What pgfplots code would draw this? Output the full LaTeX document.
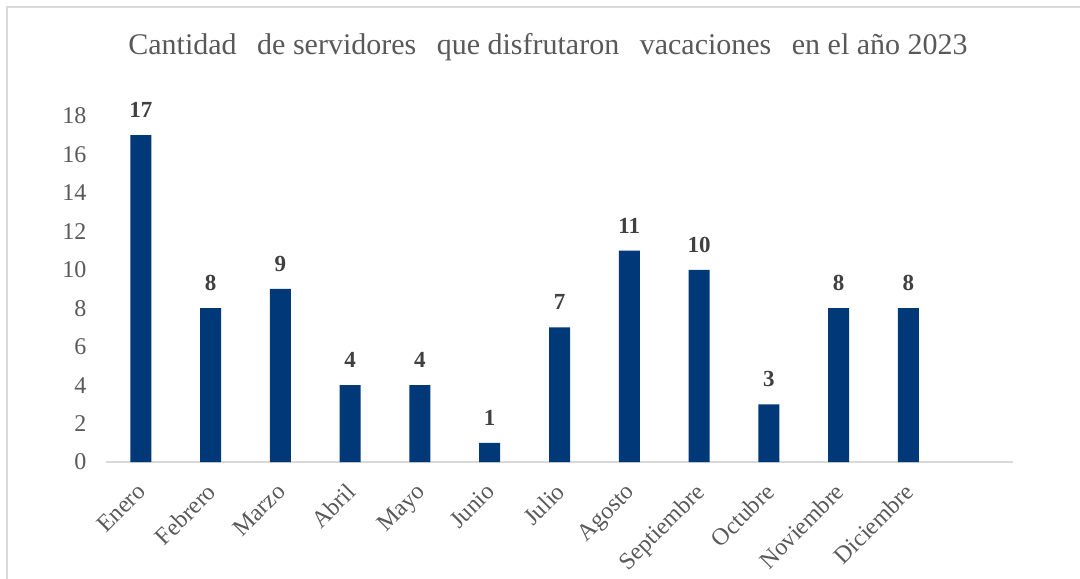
\documentclass[border=0pt]{standalone}
\usepackage{pgfplots}
\pgfplotsset{compat=1.18}
\usepackage{fontspec}
\setmainfont{Liberation Serif}
\definecolor{barblue}{RGB}{0,56,120}
\definecolor{txtgray}{RGB}{89,89,89}
\definecolor{lblgray}{RGB}{64,64,64}
\definecolor{axgray}{RGB}{217,217,217}
\begin{document}
\begin{tikzpicture}
\fill[white] (0,0) rectangle (1080bp,579bp);
\draw[axgray, line width=1.5bp] (7bp,-5bp) -- (7bp,572bp) -- (1085bp,572bp);
\node[font=\fontsize{30bp}{34bp}\selectfont, text=txtgray] at (548bp,532bp) {Cantidad\hspace{13bp} de servidores\hspace{13bp} que disfrutaron\hspace{13bp} vacaciones\hspace{13bp} en el año 2023};
\begin{axis}[
  at={(106bp,117bp)}, anchor=south west,
  scale only axis, width=907bp, height=346bp,
  xmin=-0.5, xmax=12.5, ymin=0, ymax=18,
  ytick={0,2,...,18},
  xtick={0,...,11},
  xticklabels={Enero,Febrero,Marzo,Abril,Mayo,Junio,Julio,Agosto,Septiembre,Octubre,Noviembre,Diciembre},
  axis x line*=bottom, axis y line*=left,
  x axis line style={axgray, line width=1.5bp, -},
  y axis line style={draw=none},
  major tick length=0pt,
  tick style={draw=none},
  /pgf/number format/assume math mode=true,
  yticklabel style={font=\fontsize{24bp}{28bp}\selectfont, text=txtgray, anchor=east, xshift=-16bp},
  xticklabel style={font=\fontsize{24bp}{28bp}\selectfont, text=txtgray, xshift=-5bp, yshift=-15bp, rotate=45, anchor=north east},
  clip=false,
]
\addplot[ybar, bar width=21bp, fill=barblue, draw=none,
  nodes near coords, nodes near coords style={font=\bfseries\fontsize{23bp}{27bp}\selectfont, text=lblgray, anchor=south, yshift=14bp}]
  coordinates {(0,17) (1,8) (2,9) (3,4) (4,4) (5,1) (6,7) (7,11) (8,10) (9,3) (10,8) (11,8)};
\end{axis}
\pgfresetboundingbox
\path[use as bounding box] (0,0) rectangle (1080bp,579bp);
\end{tikzpicture}
\end{document}
